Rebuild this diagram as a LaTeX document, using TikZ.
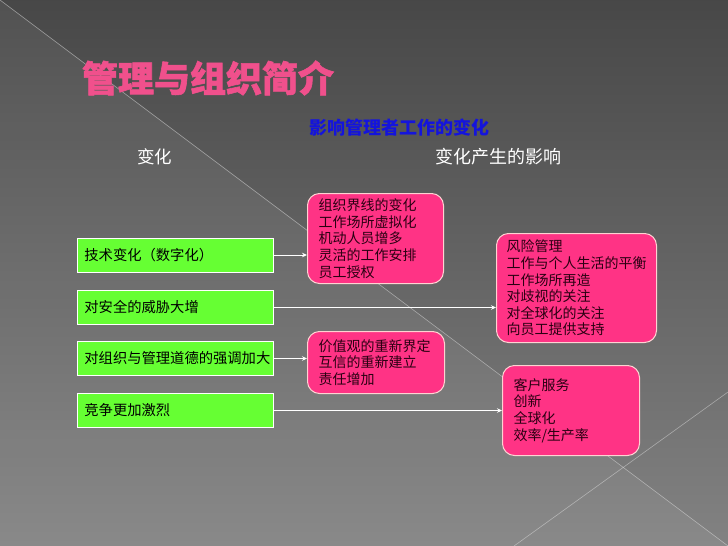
\documentclass[tikz,border=0pt]{standalone}
\usepackage{fontspec}
\setmainfont{Noto Sans CJK SC}
\newfontfamily\titlefont[BoldFeatures={FakeBold=1.6}]{Noto Sans CJK SC}
\usepackage{tikz}
\usetikzlibrary{positioning,arrows.meta}
\usepackage{xcolor}
\definecolor{titlepink}{HTML}{F0508C}
\definecolor{boxpink}{HTML}{FF3385}
\definecolor{boxgreen}{HTML}{66FF33}
\definecolor{subblue}{HTML}{1414DC}
\definecolor{inkdark}{HTML}{2A0012}

\begin{document}
\begin{tikzpicture}[x=1pt, y=-1pt,
    change/.style={draw=white, line width=0.8pt, fill=boxgreen, anchor=west,
        minimum height=34pt, text width=182pt, inner xsep=7pt, align=left,
        font=\fontsize{14.3}{17}\selectfont},
    effect/.style={draw=pink!70, line width=1pt, fill=boxpink, rounded corners=12pt,
        anchor=north west, inner xsep=11pt, align=left, text=inkdark,
        font=\fontsize{14}{16.6}\selectfont},
    link/.style={draw=white, line width=0.8pt, -{Stealth[length=5pt,width=4.5pt]}}]
    \useasboundingbox (0,0) rectangle (728,546);

    % Background
    \shade[top color=black!72, middle color=black!65, bottom color=black!49] (0,0) rectangle (728,546);
    \fill[white, opacity=0.06] (0,0) -- (728,546) -- (0,546) -- cycle;
    \draw[white!85!gray, opacity=0.45, line width=0.6pt] (0,0) -- (728,546);
    \draw[white!85!gray, opacity=0.45, line width=0.6pt] (514,546) -- (728,392);

    % Title and headings
    \node[text=titlepink, font=\titlefont\fontsize{36}{40}\selectfont\bfseries] (title) at (208,78) {管理与组织简介};
    \node[text=subblue, font=\fontsize{18}{20}\selectfont\bfseries] (sub) at (399.5,128) {影响管理者工作的变化};
    \node[text=white, font=\fontsize{17.5}{20}\selectfont] (lefthead) at (154.5,157) {变化};
    \node[text=white, font=\fontsize{18}{20}\selectfont] (righthead) at (498,157) {变化产生的影响};

    % Changes (green boxes)
    \foreach \i/\y/\txt in {1/255/技术变化（数字化）, 2/307.5/对安全的威胁大增,
                            3/358.5/对组织与管理道德的强调加大, 4/410.5/竞争更加激烈} {
        \node[change] (c\i) at (77,\y) {\txt};
    }

    % Effects (pink boxes)
    \node[effect, text width=114pt, minimum height=90pt] (e1) at (307,193)
        {组织界线的变化\\工作场所虚拟化\\机动人员增多\\灵活的工作安排\\员工授权};
    \node[effect, text width=140pt, inner xsep=10pt, minimum height=109pt] (e2) at (496,233)
        {风险管理\\工作与个人生活的平衡\\工作场所再造\\对歧视的关注\\对全球化的关注\\向员工提供支持};
    \node[effect, text width=115pt, minimum height=62pt] (e3) at (307,331)
        {价值观的重新界定\\互信的重新建立\\责任增加};
    \node[effect, text width=115pt, minimum height=90pt] (e4) at (502,365)
        {客户服务\\创新\\全球化\\效率/生产率};

    % Arrows
    \foreach \i in {1,2,3,4} {
        \draw[link] (c\i.east) -- (c\i.east -| e\i.west);
    }
\end{tikzpicture}
\end{document}
